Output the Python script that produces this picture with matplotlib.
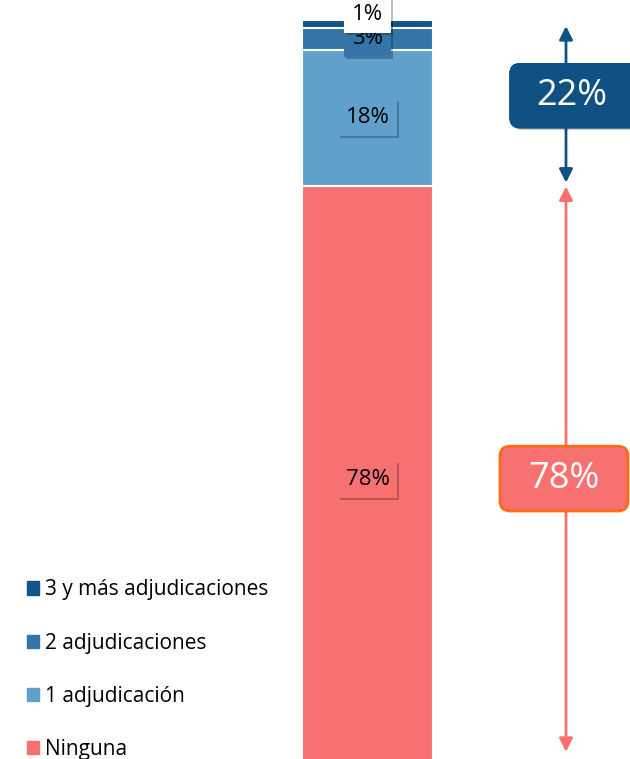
import matplotlib.pyplot as plt
from matplotlib import patheffects as pe
from matplotlib.patches import Patch, FancyBboxPatch

plt.rcParams['font.family'] = ['Open Sans', 'DejaVu Sans']

# data (bottom to top)
categorias = ['Ninguna', '1 adjudicación', '2 adjudicaciones', '3 y más adjudicaciones']
valores = [78, 18, 3, 1]
colores = ['#f87171', '#62a0cc', '#3574a6', '#145486']
grupos = ['78%', '22%']   # ninguna / al menos una

fig = plt.figure(figsize=(6.30, 7.59), dpi=100)
ax = fig.add_axes([0, 0, 1, 1])
ax.set_xlim(0, 630)
ax.set_ylim(1.86, 102.66)
ax.axis('off')

aspect = 1 / 7.53  # y units per x unit (pixel)
shadow = [pe.withSimplePatchShadow(offset=(1.5, -1.5), shadow_rgbFace='k', alpha=0.25), pe.Normal()]

bottom = 0
for cat, v, c in zip(categorias, valores, colores):
    ax.bar(367.5, v, width=131, bottom=bottom, color=c, edgecolor='white', linewidth=1.5)
    y = bottom + v / 2
    fc = c
    if v == 1:
        y += 1.2
        fc = 'white'
    t = ax.text(367.5, y, f'{v}%', ha='center', va='center', fontsize=16, color='black',
                bbox=dict(boxstyle='square,pad=0.35', fc=fc, ec='none'))
    t.get_bbox_patch().set_path_effects(shadow)
    bottom += v

# arrows on the right
x_arr = 566
ax.annotate('', xy=(x_arr, 99.2), xytext=(x_arr, 78.4),
            arrowprops=dict(arrowstyle='<|-|>', color='#0f5183', lw=2, mutation_scale=20,
                            shrinkA=0, shrinkB=0))
ax.annotate('', xy=(x_arr, 77.9), xytext=(x_arr, 2.8),
            arrowprops=dict(arrowstyle='<|-|>', color='#f87171', lw=2, mutation_scale=20,
                            shrinkA=0, shrinkB=0))

# group boxes
box22 = FancyBboxPatch((510, 85.7), 135, 8.5, boxstyle='round,pad=0,rounding_size=10',
                       mutation_aspect=aspect, fc='#0f5183', ec='#0f5183', zorder=3)
box22.set_path_effects(shadow)
ax.add_patch(box22)
ax.text(572, 89.9, grupos[1], ha='center', va='center', fontsize=26, color='white', zorder=4)

box78 = FancyBboxPatch((500, 34.8), 128, 8.6, boxstyle='round,pad=0,rounding_size=10',
                       mutation_aspect=aspect, fc='#f87171', ec='#ff6a13', lw=2, zorder=3)
ax.add_patch(box78)
ax.text(564, 39.1, grupos[0], ha='center', va='center', fontsize=26, color='white', zorder=4)

handles = [Patch(color=c, label=cat) for cat, c in zip(categorias, colores)][::-1]
ax.legend(handles=handles, loc='lower left', bbox_to_anchor=(0.029, -0.0125), frameon=False,
          fontsize=15, handlelength=0.6, handleheight=0.6, handletextpad=0.3,
          labelspacing=1.55, borderaxespad=0)

fig.savefig('out.png', dpi=100)
